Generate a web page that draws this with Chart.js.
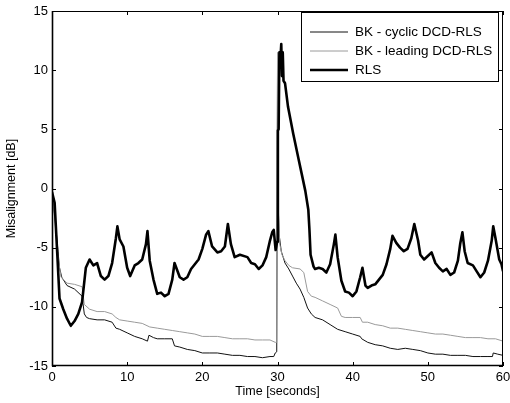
<!DOCTYPE html>
<html>
<head>
<meta charset="utf-8">
<script src="https://cdn.jsdelivr.net/npm/chart.js@4.4.0/dist/chart.umd.min.js"></script>
<style>
  body { margin: 0; background: #fff; }
  #wrap { width: 510px; height: 403px; }
</style>
</head>
<body>
<div id="wrap"><canvas id="misalignment" width="510" height="403"></canvas></div>
<script>
// axis ticks
var xTicks = [0, 10, 20, 30, 40, 50, 60];
var yTicks = [-15, -10, -5, 0, 5, 10, 15];

var seriesNames = ['BK - cyclic DCD-RLS', 'BK - leading DCD-RLS', 'RLS'];

// BK - cyclic DCD-RLS (thin black)
var cycTime = [0, 0.4, 0.8, 1.0, 1.3, 2, 3, 4, 4.3, 4.6,
  5, 6, 7, 8, 8.5, 9, 10, 11, 12, 12.7,
  12.9, 13.5, 14, 15, 16, 16.3, 17, 18, 19, 20,
  21, 22, 23, 24, 25, 26, 27, 28, 29, 29.5,
  29.7, 29.9, 30.0, 30.1, 30.2, 30.5, 31, 31.5, 32, 32.5,
  33, 33.5, 34, 34.5, 35, 36, 37, 38, 39, 40,
  41, 41.2, 42, 43, 44, 45, 46, 47, 48, 49,
  50, 51, 52, 53, 54, 55, 56, 57, 58, 58.6,
  58.7, 59.3, 60];
var cycValue = [-0.3, -2.5, -5.3, -6.7, -7.5, -8.2, -8.5, -9.1, -10.6, -10.9,
  -11.0, -11.1, -11.1, -11.3, -11.8, -11.9, -12.2, -12.5, -12.7, -12.9,
  -12.4, -12.6, -12.7, -12.7, -12.7, -13.3, -13.4, -13.6, -13.7, -13.9,
  -13.9, -13.9, -14.0, -14.1, -14.1, -14.2, -14.2, -14.3, -14.2, -14.2,
  -13.9, -13.8, 10.0, -1.5, -3.8, -5.3, -6.3, -6.8, -7.4, -8.0,
  -8.5, -9.2, -10.1, -10.6, -10.9, -11.1, -11.5, -11.9, -12.1, -12.3,
  -12.5, -12.7, -13.0, -13.2, -13.3, -13.5, -13.6, -13.5, -13.6, -13.7,
  -13.9, -14.0, -14.0, -14.1, -14.1, -14.1, -14.2, -14.2, -14.2, -14.2,
  -13.9, -14.0, -14.1];

// BK - leading DCD-RLS (thin grey)
var leadTime = [0, 0.4, 0.8, 1.2, 2, 3, 4, 4.3, 5, 6,
  7, 8, 8.5, 9, 10, 11, 12, 13, 14, 15,
  16, 17, 18, 19, 20, 21, 22, 23, 24, 25,
  26, 27, 28, 29, 29.7, 29.9, 30.0, 30.1, 30.3, 30.6,
  31, 31.5, 32, 33, 33.5, 34, 34.5, 35, 36, 37,
  38, 38.5, 39, 40, 41, 41.3, 42, 43, 44, 45,
  46, 47, 48, 49, 50, 51, 52, 53, 54, 55,
  56, 57, 58, 59, 60];
var leadValue = [-0.3, -2.8, -5.8, -7.5, -8.0, -8.1, -8.3, -9.8, -10.2, -10.4,
  -10.4, -10.6, -10.9, -11.1, -11.2, -11.3, -11.4, -11.7, -11.8, -11.9,
  -12.0, -12.1, -12.2, -12.3, -12.5, -12.5, -12.5, -12.6, -12.7, -12.7,
  -12.7, -12.8, -12.8, -12.8, -13.0, -13.0, 11.5, -1.5, -4.7, -5.6,
  -6.1, -6.5, -6.7, -6.8, -7.1, -8.7, -9.1, -9.2, -9.5, -9.8,
  -10.1, -10.8, -10.9, -10.9, -10.9, -11.3, -11.3, -11.5, -11.6, -11.8,
  -11.8, -11.9, -12.0, -12.1, -12.2, -12.3, -12.3, -12.4, -12.5, -12.6,
  -12.6, -12.6, -12.7, -12.7, -12.9];

// RLS (thick black)
var rlsTime = [0, 0.35, 0.7, 1.0, 1.5, 2.0, 2.5, 3.0, 3.5, 4.0,
  4.5, 5.0, 5.5, 6.0, 6.5, 7.0, 7.5, 8.0, 8.5, 8.7,
  9.0, 9.5, 10.0, 10.4, 11.0, 11.5, 12.0, 12.5, 12.7, 13.0,
  13.5, 14.0, 14.5, 15.0, 15.5, 16.0, 16.3, 17.0, 17.5, 18.0,
  18.5, 19.0, 19.5, 20.0, 20.5, 20.8, 21.3, 22.0, 22.5, 23.0,
  23.4, 23.8, 24.3, 25.0, 26.0, 26.5, 27.0, 27.5, 28.0, 28.5,
  29.0, 29.3, 29.5, 29.75, 29.95, 30.05, 30.15, 30.25, 30.35, 30.5,
  30.6, 30.7, 30.8, 31.0, 31.4, 32.1, 32.8, 33.2, 33.7, 34.1,
  34.25, 34.4, 34.8, 35.0, 35.5, 36.0, 36.5, 37.0, 37.5, 37.7,
  38.0, 38.5, 39.0, 39.5, 40.0, 40.5, 41.0, 41.3, 41.7, 42.0,
  42.5, 43.0, 43.5, 44.0, 44.5, 45.0, 45.3, 45.8, 46.3, 46.8,
  47.3, 47.8, 48.2, 48.7, 49.0, 49.5, 50.0, 50.5, 51.0, 51.5,
  52.0, 52.5, 53.0, 53.5, 54.0, 54.3, 54.6, 54.9, 55.3, 56.0,
  56.5, 57.0, 57.5, 58.0, 58.5, 58.7, 59.0, 59.5, 59.8, 60.0];
var rlsValue = [-0.3, -1.2, -5.5, -9.3, -10.2, -11.0, -11.6, -11.2, -10.6, -9.6,
  -6.7, -6.0, -6.5, -6.3, -7.4, -7.7, -7.4, -6.3, -4.2, -3.2,
  -4.3, -4.9, -6.7, -7.4, -6.5, -6.3, -6.0, -4.7, -3.6, -6.1,
  -7.7, -8.9, -8.8, -9.1, -8.9, -7.7, -6.3, -7.5, -7.7, -7.5,
  -6.8, -6.4, -6.0, -5.1, -3.9, -3.6, -4.9, -5.4, -5.3, -4.9,
  -3.0, -4.7, -5.8, -5.6, -5.8, -6.3, -6.4, -6.8, -6.5, -5.8,
  -4.4, -3.7, -3.5, -5.2, -4.5, 4.9, 5.0, 11.5, 10.5, 12.2,
  9.5, 11.5, 9.1, 8.9, 6.9, 4.6, 2.5, 1.3, -0.2, -1.8,
  -3.5, -5.6, -6.6, -6.8, -6.7, -6.8, -7.1, -6.4, -4.7, -3.9,
  -5.8, -7.8, -8.7, -8.8, -9.1, -8.7, -7.5, -6.7, -8.2, -8.4,
  -8.2, -8.1, -7.7, -7.3, -6.4, -5.1, -4.0, -4.6, -5.0, -5.3,
  -5.1, -4.2, -3.0, -4.4, -5.6, -6.0, -5.7, -5.4, -6.3, -6.7,
  -7.0, -6.8, -7.3, -7.1, -6.1, -4.7, -3.7, -5.3, -6.3, -6.5,
  -7.0, -7.5, -7.1, -6.1, -4.4, -3.2, -4.2, -6.0, -6.4, -7.0];

function toPoints(ts, vs) {
  return ts.map(function(t, i) { return {x: t, y: vs[i]}; });
}

var fontFamily = "'Liberation Sans', Arial, Helvetica, sans-serif";
Chart.defaults.color = '#000';
Chart.defaults.font.family = fontFamily;

// MATLAB style box, inward ticks and legend
var matlabAxes = {
  id: 'matlabAxes',
  afterDraw: function(chart) {
    var c = chart.ctx;
    var a = chart.chartArea;
    var xs = chart.scales.x;
    var ys = chart.scales.y;
    c.save();
    c.strokeStyle = '#000';

    c.lineWidth = 1;
    c.beginPath();
    c.moveTo(a.left, a.top + 0.5);
    c.lineTo(a.right - 0.5, a.top + 0.5);
    c.lineTo(a.right - 0.5, a.bottom);
    c.stroke();
    c.lineWidth = 1.6;
    c.beginPath();
    c.moveTo(a.left + 0.5, a.top);
    c.lineTo(a.left + 0.5, a.bottom - 0.5);
    c.lineTo(a.right, a.bottom - 0.5);
    c.stroke();

    c.lineWidth = 1;
    c.beginPath();
    xs.ticks.forEach(function(t) {
      var px = Math.round(xs.getPixelForValue(t.value)) + 0.5;
      c.moveTo(px, a.bottom); c.lineTo(px, a.bottom - 4);
      c.moveTo(px, a.top); c.lineTo(px, a.top + 4);
    });
    ys.ticks.forEach(function(t) {
      var py = Math.round(ys.getPixelForValue(t.value)) + 0.5;
      c.moveTo(a.left, py); c.lineTo(a.left + 4, py);
      c.moveTo(a.right, py); c.lineTo(a.right - 4, py);
    });
    c.stroke();

    // legend box
    var bx = a.right - 202, by = a.top + 1, bw = 198, bh = 70;
    c.fillStyle = '#fff';
    c.fillRect(bx, by, bw, bh);
    c.lineWidth = 1;
    c.strokeRect(bx + 0.5, by + 0.5, bw - 1, bh - 1);
    c.font = '13.5px ' + fontFamily;
    c.textBaseline = 'middle';
    c.textAlign = 'left';
    chart.data.datasets.forEach(function(ds, i) {
      var ly = by + 20 + i * 19;
      c.strokeStyle = ds.borderColor;
      c.lineWidth = ds.borderWidth;
      c.beginPath();
      c.moveTo(bx + 9, ly);
      c.lineTo(bx + 47, ly);
      c.stroke();
      c.fillStyle = '#000';
      c.fillText(ds.label, bx + 54, ly);
    });
    c.restore();
  }
};

const ctx = document.getElementById('misalignment').getContext('2d');
const myChart = new Chart(ctx, {
  type: 'line',
  data: {
    datasets: [{
      label: seriesNames[0],
      data: toPoints(cycTime, cycValue),
      borderColor: '#111',
      borderWidth: 1,
      order: 2
    }, {
      label: seriesNames[1],
      data: toPoints(leadTime, leadValue),
      borderColor: '#9a9a9a',
      borderWidth: 1,
      order: 1
    }, {
      label: seriesNames[2],
      data: toPoints(rlsTime, rlsValue),
      borderColor: '#000',
      borderWidth: 2.6,
      order: 0
    }]
  },
  options: {
    responsive: false,
    animation: false,
    events: [],
    elements: {
      point: { radius: 0 },
      line: { tension: 0, borderJoinStyle: 'round', fill: false }
    },
    layout: { padding: { top: 11, right: 7, left: 0, bottom: 0 } },
    plugins: {
      legend: { display: false },
      tooltip: { enabled: false }
    },
    scales: {
      x: {
        type: 'linear',
        min: 0,
        max: 60,
        afterBuildTicks: function(scale) { scale.ticks = xTicks.map(function(v) { return {value: v}; }); },
        afterFit: function(scale) {
          scale.height = 37;
          scale.paddingLeft = 0;
          scale.paddingRight = 0;
        },
        grid: { display: false, drawTicks: false },
        border: { display: false },
        ticks: { padding: 4, font: { size: 13 }, maxRotation: 0 },
        title: { display: true, text: 'Time [seconds]', font: { size: 12.5 }, padding: { top: 0, bottom: 4 } }
      },
      y: {
        type: 'linear',
        min: -15,
        max: 15,
        afterBuildTicks: function(scale) { scale.ticks = yTicks.map(function(v) { return {value: v}; }); },
        afterFit: function(scale) {
          scale.width = 52;
          scale.paddingTop = 0;
          scale.paddingBottom = 0;
        },
        grid: { display: false, drawTicks: false },
        border: { display: false },
        ticks: { padding: 4, font: { size: 13 } },
        title: { display: true, text: 'Misalignment [dB]', font: { size: 12.5 }, padding: { top: 4, bottom: 0 } }
      }
    }
  },
  plugins: [matlabAxes]
});
</script>
</body>
</html>
